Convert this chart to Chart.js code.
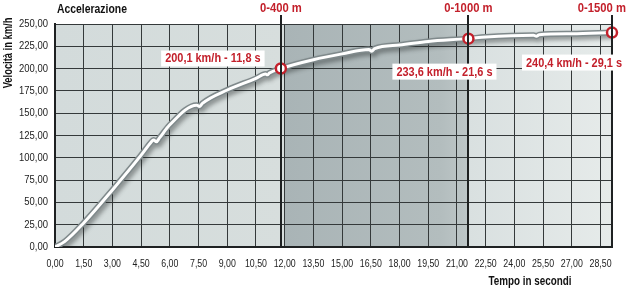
<!DOCTYPE html>
<html>
<head>
<meta charset="utf-8">
<script src="https://cdn.jsdelivr.net/npm/chart.js@4/dist/chart.umd.min.js"></script>
<style>
  html, body { margin: 0; padding: 0; background: #fff; }
  #wrap { width: 630px; height: 290px; }
</style>
</head>
<body>
<div id="wrap"><canvas id="accChart" width="630" height="290"></canvas></div>
<script>
// tempo (s) e velocità (km/h)
let times = [0, 0.5, 1.5, 3.0, 4.5, 5.0, 5.15, 5.3, 5.45, 6.0, 7.4, 7.55, 7.7, 9.0, 10.5, 11.0, 11.1, 11.2, 11.8,
  13.5, 15.0, 16.4, 16.55, 16.7, 18.0, 19.5, 21.6, 22.5, 25.0, 25.15, 25.3, 27.0, 29.1];
let speeds = [0, 6, 27, 64, 103, 117, 120, 118, 122, 137, 159, 157.5, 161, 176, 189, 194, 193, 195, 200.1,
  210, 216.5, 221.5, 219.5, 222.5, 226.5, 230.5, 233.6, 235.5, 237.5, 236.3, 238, 239, 240.4];

let markTimes = [11.8, 21.6, 29.1];
let markSpeeds = [200.1, 233.6, 240.4];
let markNames = ["0-400 m", "0-1000 m", "0-1500 m"];
let markTexts = ["200,1 km/h - 11,8 s", "233,6 km/h - 21,6 s", "240,4 km/h - 29,1 s"];

let xTicksStep = 1.5;
let yTicksStep = 25;

const FONT = "'Liberation Sans', Arial, sans-serif";
const RED = "#c3202b";

function fmt(v) {
  return v.toFixed(2).replace(".", ",");
}

// testo "stretto" (font condensato simulato)
function narrowText(ctx, text, x, y, font, sx, align, color) {
  ctx.save();
  ctx.font = font;
  ctx.fillStyle = color;
  ctx.textAlign = align;
  ctx.textBaseline = "middle";
  ctx.translate(x, y);
  ctx.scale(sx, 1);
  ctx.fillText(text, 0, 0);
  ctx.restore();
}

let curvePoints = times.map((t, i) => ({ x: t, y: speeds[i] }));
let markPoints = markTimes.map((t, i) => ({ x: t, y: markSpeeds[i] }));

let decoPlugin = {
  id: "deco",
  beforeDraw(chart) {
    let ctx = chart.ctx, a = chart.chartArea, xs = chart.scales.x;
    let x12 = xs.getPixelForValue(12);
    let x216 = xs.getPixelForValue(markTimes[1]);
    ctx.save();
    let g1 = ctx.createLinearGradient(a.left, 0, x12, 0);
    g1.addColorStop(0, "#d3dbdb");
    g1.addColorStop(1, "#d7dedd");
    ctx.fillStyle = g1;
    ctx.fillRect(a.left, a.top, x12 - a.left, a.bottom - a.top);
    let g2 = ctx.createLinearGradient(x12, 0, x216, 0);
    g2.addColorStop(0, "#a9b4b6");
    g2.addColorStop(0.85, "#b3bdbe");
    g2.addColorStop(1, "#bec7c8");
    ctx.fillStyle = g2;
    ctx.fillRect(x12, a.top, x216 - x12, a.bottom - a.top);
    let g3 = ctx.createLinearGradient(x216, 0, a.right, 0);
    g3.addColorStop(0, "#d9e0e0");
    g3.addColorStop(1, "#e6ebea");
    ctx.fillStyle = g3;
    ctx.fillRect(x216, a.top, a.right - x216, a.bottom - a.top);
    ctx.restore();
  },
  afterDatasetsDraw(chart) {
    let ctx = chart.ctx, a = chart.chartArea, xs = chart.scales.x;
    ctx.save();
    ctx.strokeStyle = "#1e2122";
    ctx.lineWidth = 2;
    markTimes.forEach(t => {
      let px = Math.round(xs.getPixelForValue(t));
      ctx.beginPath();
      ctx.moveTo(px, 15);
      ctx.lineTo(px, a.bottom);
      ctx.stroke();
    });
    ctx.restore();
  },
  afterDraw(chart) {
    let ctx = chart.ctx, a = chart.chartArea, xs = chart.scales.x, ys = chart.scales.y;

    // etichette dei tick, posizionate dalle scale
    xs.ticks.forEach(t => {
      narrowText(ctx, fmt(t.value), xs.getPixelForValue(t.value), a.bottom + 17,
        "11px " + FONT, 0.8, "center", "#222");
    });
    ys.ticks.forEach(t => {
      narrowText(ctx, fmt(t.value), a.left - 7, ys.getPixelForValue(t.value),
        "11px " + FONT, 0.86, "right", "#222");
    });

    // titoli
    narrowText(ctx, "Accelerazione", a.left + 2, 9, "bold 13px " + FONT, 0.8, "left", "#111");
    narrowText(ctx, "Tempo in secondi", 530, 282, "bold 12px " + FONT, 0.82, "center", "#111");
    ctx.save();
    ctx.translate(9, 53);
    ctx.rotate(-Math.PI / 2);
    narrowText(ctx, "Velocità in km/h", 0, 0, "bold 12px " + FONT, 0.78, "center", "#111");
    ctx.restore();

    // nomi dei traguardi
    markTimes.forEach((t, i) => {
      let px = xs.getPixelForValue(t);
      ctx.font = "bold 12.5px " + FONT;
      let w = ctx.measureText(markNames[i]).width * 0.9;
      let cx = Math.min(px, 626 - w / 2);
      narrowText(ctx, markNames[i], cx, 9, "bold 12.5px " + FONT, 0.9, "center", RED);
    });

    // etichette dei valori
    let offs = [[-68, -10], [-24, 33], [-38, 30]];
    markTimes.forEach((t, i) => {
      let px = xs.getPixelForValue(t) + offs[i][0];
      let py = ys.getPixelForValue(markSpeeds[i]) + offs[i][1];
      ctx.font = "bold 12.5px " + FONT;
      let w = ctx.measureText(markTexts[i]).width * 0.875 + 8;
      ctx.fillStyle = "#ffffff";
      ctx.fillRect(px - w / 2, py - 8, w, 16);
      narrowText(ctx, markTexts[i], px, py + 0.5, "bold 12.5px " + FONT, 0.875, "center", RED);
    });
  }
};

// ombra sotto la curva
let shadowPlugin = {
  id: "curveShadow",
  beforeDatasetDraw(chart, args) {
    if (args.index !== 0) return;
    let ctx = chart.ctx;
    ctx.save();
    ctx.shadowColor = "rgba(40,45,45,0.45)";
    ctx.shadowBlur = 4;
    ctx.shadowOffsetX = 2;
    ctx.shadowOffsetY = 3;
  },
  afterDatasetDraw(chart, args) {
    if (args.index !== 0) return;
    chart.ctx.restore();
  }
};

window.onload = function() {
  Chart.defaults.font.family = FONT;
  let ctx = document.getElementById("accChart").getContext("2d");
  window.myChart = new Chart(ctx, {
    type: "line",
    data: {
      datasets: [
        {
          data: curvePoints,
          borderColor: "#7f898b",
          borderWidth: 6,
          pointRadius: 0,
          cubicInterpolationMode: "monotone",
          order: 3
        },
        {
          data: curvePoints,
          borderColor: "#ffffff",
          borderWidth: 3,
          pointRadius: 0,
          cubicInterpolationMode: "monotone",
          order: 2
        },
        {
          data: markPoints,
          showLine: false,
          pointRadius: 5,
          pointBorderWidth: 2.5,
          pointBackgroundColor: "#ffffff",
          pointBorderColor: RED,
          clip: false,
          order: 1
        }
      ]
    },
    options: {
      responsive: false,
      animation: false,
      layout: { padding: { top: 24, right: 18, left: 0, bottom: 0 } },
      plugins: {
        legend: { display: false },
        tooltip: { enabled: false }
      },
      scales: {
        x: {
          type: "linear",
          min: 0,
          max: 29.1,
          afterFit(scale) { scale.height = 43; },
          grid: { color: "#34393a", lineWidth: 1, drawTicks: false },
          border: { color: "#1e2122", width: 2 },
          ticks: {
            display: false,
            stepSize: xTicksStep,
            includeBounds: false,
            autoSkip: false
          }
        },
        y: {
          min: 0,
          max: 250,
          afterFit(scale) { scale.width = 55; },
          grid: { color: "#34393a", lineWidth: 1, drawTicks: false },
          border: { color: "#1e2122", width: 2 },
          ticks: {
            display: false,
            stepSize: yTicksStep
          }
        }
      }
    },
    plugins: [decoPlugin, shadowPlugin]
  });
};
</script>
</body>
</html>
